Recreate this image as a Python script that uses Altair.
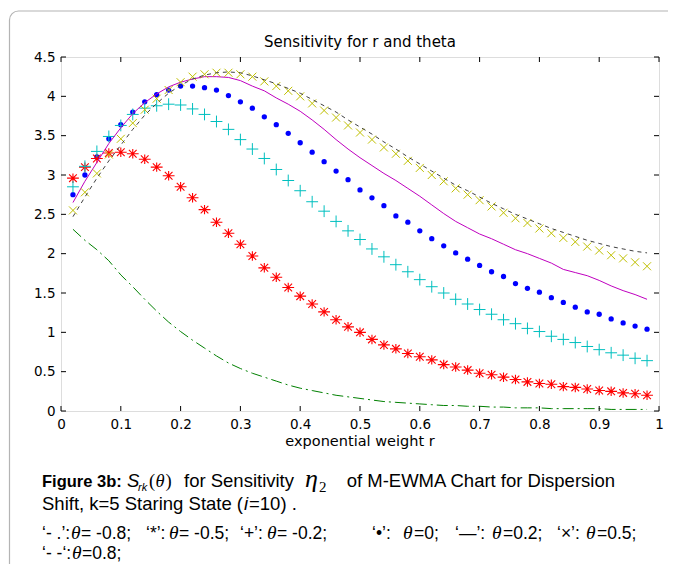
import altair as alt
import pandas as pd

# ---------------- data ----------------
r = [0.02, 0.04, 0.06, 0.08, 0.10, 0.12, 0.14, 0.16, 0.18, 0.20,
     0.22, 0.24, 0.26, 0.28, 0.30, 0.32, 0.34, 0.36, 0.38, 0.40,
     0.42, 0.44, 0.46, 0.48, 0.50, 0.52, 0.54, 0.56, 0.58, 0.60,
     0.62, 0.64, 0.66, 0.68, 0.70, 0.72, 0.74, 0.76, 0.78, 0.80,
     0.82, 0.84, 0.86, 0.88, 0.90, 0.92, 0.94, 0.96, 0.98]

theta_m08 = [2.31, 2.17, 2.05, 1.91, 1.73, 1.58, 1.42, 1.27, 1.13, 1.01,
             0.90, 0.80, 0.70, 0.61, 0.54, 0.48, 0.43, 0.38, 0.33, 0.29,
             0.26, 0.23, 0.20, 0.18, 0.16, 0.14, 0.12, 0.11, 0.10, 0.09,
             0.08, 0.07, 0.07, 0.06, 0.06, 0.05, 0.05, 0.04, 0.04, 0.04,
             0.03, 0.03, 0.03, 0.03, 0.03, 0.02, 0.02, 0.02, 0.02]

theta_m05 = [2.96, 3.10, 3.21, 3.28, 3.29, 3.27, 3.20, 3.10, 2.99, 2.85,
             2.71, 2.56, 2.40, 2.26, 2.12, 1.97, 1.82, 1.70, 1.57, 1.46,
             1.36, 1.26, 1.16, 1.07, 1.00, 0.91, 0.84, 0.79, 0.73, 0.69,
             0.65, 0.59, 0.56, 0.52, 0.48, 0.46, 0.43, 0.40, 0.37, 0.35,
             0.34, 0.31, 0.30, 0.28, 0.26, 0.25, 0.23, 0.22, 0.20]

theta_m02 = [2.85, 3.11, 3.30, 3.49, 3.63, 3.77, 3.85, 3.88, 3.90, 3.89,
             3.84, 3.77, 3.68, 3.58, 3.45, 3.33, 3.21, 3.07, 2.93, 2.80,
             2.66, 2.54, 2.41, 2.29, 2.18, 2.06, 1.96, 1.86, 1.77, 1.67,
             1.58, 1.50, 1.42, 1.36, 1.29, 1.23, 1.16, 1.11, 1.05, 1.01,
             0.95, 0.91, 0.87, 0.82, 0.78, 0.74, 0.71, 0.67, 0.64]

theta_0 = [2.75, 3.00, 3.23, 3.46, 3.64, 3.80, 3.93, 4.02, 4.08, 4.13,
           4.13, 4.11, 4.08, 4.01, 3.93, 3.85, 3.74, 3.64, 3.53, 3.41,
           3.29, 3.17, 3.05, 2.94, 2.81, 2.71, 2.61, 2.48, 2.40, 2.29,
           2.19, 2.10, 2.01, 1.93, 1.85, 1.77, 1.71, 1.62, 1.56, 1.51,
           1.44, 1.38, 1.32, 1.26, 1.23, 1.17, 1.12, 1.08, 1.04]

theta_p02 = [2.65, 2.92, 3.16, 3.40, 3.60, 3.78, 3.92, 4.03, 4.12, 4.18,
             4.22, 4.25, 4.25, 4.24, 4.20, 4.13, 4.07, 3.98, 3.90, 3.81,
             3.70, 3.58, 3.45, 3.33, 3.22, 3.12, 3.02, 2.93, 2.83, 2.73,
             2.62, 2.51, 2.41, 2.33, 2.25, 2.19, 2.12, 2.05, 2.00, 1.94,
             1.88, 1.80, 1.76, 1.72, 1.66, 1.59, 1.53, 1.48, 1.42]

theta_p05 = [2.55, 2.78, 3.02, 3.26, 3.46, 3.66, 3.83, 3.97, 4.08, 4.18,
             4.25, 4.28, 4.30, 4.30, 4.28, 4.25, 4.19, 4.13, 4.07, 4.00,
             3.91, 3.82, 3.73, 3.63, 3.54, 3.45, 3.35, 3.27, 3.18, 3.09,
             3.00, 2.92, 2.83, 2.75, 2.68, 2.60, 2.52, 2.45, 2.39, 2.32,
             2.26, 2.20, 2.15, 2.09, 2.04, 1.98, 1.94, 1.89, 1.84]

theta_p08 = [2.47, 2.72, 2.96, 3.18, 3.38, 3.58, 3.76, 3.91, 4.04, 4.14,
             4.22, 4.27, 4.30, 4.31, 4.30, 4.26, 4.21, 4.16, 4.10, 4.04,
             3.96, 3.88, 3.80, 3.70, 3.61, 3.52, 3.42, 3.33, 3.23, 3.14,
             3.05, 2.96, 2.87, 2.80, 2.72, 2.64, 2.57, 2.50, 2.44, 2.38,
             2.32, 2.27, 2.22, 2.17, 2.13, 2.09, 2.06, 2.03, 2.01]

x_ticks = [0, 0.1, 0.2, 0.3, 0.4, 0.5, 0.6, 0.7, 0.8, 0.9, 1]
y_ticks = [0, 0.5, 1, 1.5, 2, 2.5, 3, 3.5, 4, 4.5]

title_text = "Sensitivity for r and theta"
xlabel_text = "exponential weight r"

# ---------------- layout ----------------
W, H = 598, 354
OX, OY = 61, 57          # page position of plot origin

xs = alt.Scale(domain=[0, 1], nice=False, zero=False)
ys = alt.Scale(domain=[0, 4.5], nice=False, zero=False)

AXF = "DejaVu Sans"
x_axis = alt.Axis(values=x_ticks, format="~g", ticks=False, tickSize=0,
                  domain=False, grid=False, labelFont=AXF, labelFontSize=13.5,
                  labelColor="black", labelPadding=17, labelOverlap=False,
                  labelFlush=False, labelBaseline="alphabetic", title=None)
y_axis = alt.Axis(values=y_ticks, format="~g", ticks=False, tickSize=0,
                  domain=False, grid=False, labelFont=AXF, labelFontSize=13.5,
                  labelColor="black", labelPadding=6, labelOverlap=False,
                  labelFlush=False, title=None)


def series_df(vals):
    return pd.DataFrame({"r": r, "s": vals})


px = alt.X("r:Q", scale=xs, axis=x_axis)
py = alt.Y("s:Q", scale=ys, axis=y_axis)

STAR = "M-1,0L1,0M0,-0.8L0,0.8M-0.65,-0.65L0.65,0.65M-0.65,0.65L0.65,-0.65"
PLUS = "M-1,0L1,0M0,-1L0,1"
CROSS = "M-1,-1L1,1M-1,1L1,-1"

dummy = pd.DataFrame({"d": [0]})

frame = alt.Chart(dummy).mark_rect(
    fill=None, stroke="#b4b4b4", strokeWidth=1.2, cornerRadius=9
).encode(x=alt.value(9.5 - OX), x2=alt.value(760), y=alt.value(11 - OY), y2=alt.value(700))

blue = alt.Chart(series_df(theta_0)).mark_point(
    shape="circle", filled=True, size=28, color="#0000ff", opacity=1
).encode(x=px, y=py)

green = alt.Chart(series_df(theta_m08)).mark_line(
    color="#008000", strokeWidth=1, strokeDash=[11, 4, 2, 4]
).encode(x=px, y=py)

red = alt.Chart(series_df(theta_m05)).mark_point(
    shape=STAR, filled=False, size=140, stroke="#ff0000", strokeWidth=1.1, opacity=1
).encode(x=px, y=py)

cyan = alt.Chart(series_df(theta_m02)).mark_point(
    shape=PLUS, filled=False, size=140, stroke="#00bfbf", strokeWidth=1, opacity=1
).encode(x=px, y=py)

magenta = alt.Chart(series_df(theta_p02)).mark_line(
    color="#bf00bf", strokeWidth=1
).encode(x=px, y=py)

yellow = alt.Chart(series_df(theta_p05)).mark_point(
    shape=CROSS, filled=False, size=64, stroke="#bfbf00", strokeWidth=1, opacity=1
).encode(x=px, y=py)

gray = alt.Chart(series_df(theta_p08)).mark_line(
    color="#404040", strokeWidth=1, strokeDash=[4, 4]
).encode(x=px, y=py)

xt = pd.DataFrame({"r": x_ticks})
yt = pd.DataFrame({"s": y_ticks})
tick_b = alt.Chart(xt).mark_rule(color="black", strokeWidth=1).encode(
    x=px, y=alt.value(H), y2=alt.value(H - 5))
tick_t = alt.Chart(xt).mark_rule(color="black", strokeWidth=1).encode(
    x=px, y=alt.value(0), y2=alt.value(5))
tick_l = alt.Chart(yt).mark_rule(color="black", strokeWidth=1).encode(
    y=py, x=alt.value(0), x2=alt.value(5))
tick_r = alt.Chart(yt).mark_rule(color="black", strokeWidth=1).encode(
    y=py, x=alt.value(W), x2=alt.value(W - 5))


def text_at(txt, px_, py_, font="Liberation Sans", size=18, style="normal",
            weight="normal", align="left"):
    return alt.Chart(dummy).mark_text(
        text=txt, font=font, fontSize=size, fontStyle=style, fontWeight=weight,
        align=align, baseline="alphabetic", color="black"
    ).encode(x=alt.value(px_ - OX), y=alt.value(py_ - OY))


title = text_at(title_text, 360, 47, font=AXF, size=15, align="center")
xlabel = text_at(xlabel_text, 360, 446, font=AXF, size=14.5, align="center")

# ---------------- caption ----------------
SANS = "Liberation Sans"
SERIF = "Liberation Serif"
FS = 18.5
FS3 = 17.5
L1, L2, L3, L4 = 487, 510, 539, 559

line1 = [
    text_at("Figure 3b:", 42, L1, SANS, 16.5, weight="bold"),
    text_at("S", 127, L1, SANS, FS, style="italic"),
    text_at("rk", 138, L1 + 4, SANS, 11, style="italic"),
    text_at("(", 149, L1, SERIF, FS),
    text_at("θ", 155.5, L1, SERIF, FS, style="italic"),
    text_at(")", 165.5, L1, SERIF, FS),
    text_at("for Sensitivity", 184, L1, SANS, FS),
    text_at("η", 305, L1, SERIF, 26, style="italic"),
    text_at("2", 319, L1 + 5, SERIF, 15),
    text_at("of M-EWMA Chart for Dispersion", 615, L1, SANS, FS, align="right"),
]

shift_a = "Shift, k=5 Staring State ("
line2 = [
    text_at(shift_a, 42, L2, SANS, FS),
    text_at("i", 244, L2, SANS, FS, style="italic"),
    text_at("=10) .", 249, L2, SANS, FS),
]


def th(x, base):
    return text_at("θ", x, base, SERIF, 19.5, style="italic")


line3 = [
    text_at("‘- .’:", 42, L3, SANS, FS3), th(71, L3), text_at("= -0.8;", 81, L3, SANS, FS3),
    text_at("‘*’:", 146, L3, SANS, FS3), th(169, L3), text_at("= -0.5;", 179, L3, SANS, FS3),
    text_at("‘+’:", 240, L3, SANS, FS3), th(267, L3), text_at("= -0.2;", 277, L3, SANS, FS3),
    text_at("‘•’:", 372, L3, SANS, FS3), th(403, L3), text_at("=0;", 414, L3, SANS, FS3),
    text_at("‘—’:", 455, L3, SANS, FS3), th(492, L3), text_at("=0.2;", 503, L3, SANS, FS3),
    text_at("‘×’:", 557, L3, SANS, FS3), th(586, L3), text_at("=0.5;", 597, L3, SANS, FS3),
]
line4 = [
    text_at("‘- -‘:", 42, L4, SANS, FS3), th(72, L4), text_at("=0.8;", 82, L4, SANS, FS3),
]

layers = [frame, blue, green, red, cyan, magenta, yellow, gray,
          tick_b, tick_t, tick_l, tick_r, title, xlabel] + line1 + line2 + line3 + line4

chart = alt.layer(*layers).properties(
    width=W, height=H,
    padding={"left": 53, "top": 49, "right": 9, "bottom": 153},
    autosize=alt.AutoSizeParams(type="none"),
).configure_view(stroke="black", strokeWidth=1).configure(background="white")

chart.save("out.html", embed_options={"renderer": "svg", "actions": False})
